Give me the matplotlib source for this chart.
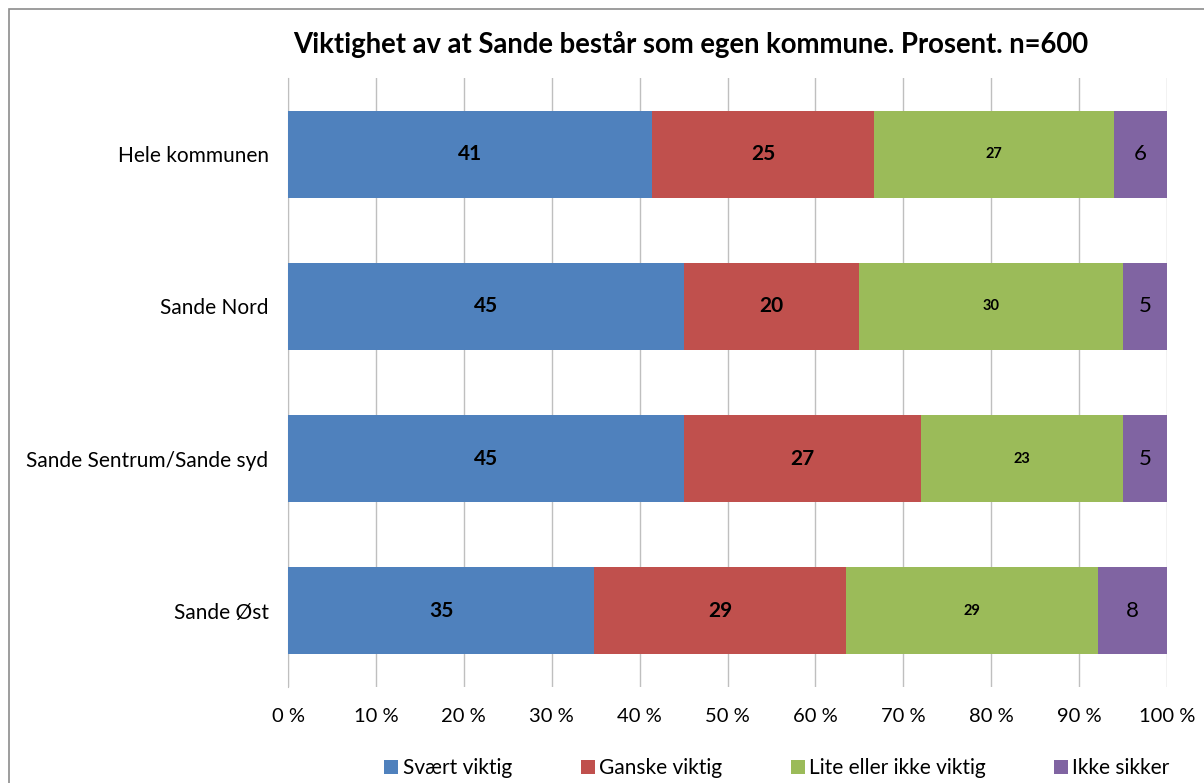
import matplotlib
matplotlib.use("Agg")
import matplotlib.pyplot as plt
from matplotlib.patches import Rectangle
import numpy as np

plt.rcParams['font.family'] = ['Lato', 'DejaVu Sans']

categories = ["Hele kommunen", "Sande Nord", "Sande Sentrum/Sande syd", "Sande Øst"]
series_names = ["Svært viktig", "Ganske viktig", "Lite eller ikke viktig", "Ikke sikker"]
svaert = [41.4, 45.0, 45.0, 34.8]
ganske = [25.3, 20.0, 27.0, 28.7]
lite = [27.3, 30.0, 23.0, 28.7]
ikke = [6.0, 5.0, 5.0, 7.8]
colors = ["#4F81BD", "#C0504D", "#9BBB59", "#8064A2"]
xticks = [0, 10, 20, 30, 40, 50, 60, 70, 80, 90, 100]
xticklabels = [f"{t} %" for t in xticks]
title = "Viktighet av at Sande består som egen kommune. Prosent. n=600"

W, H = 1204, 783
fig = plt.figure(figsize=(W / 100, H / 100), dpi=100)
ax = fig.add_axes([288 / W, 1 - 687 / H, (1167 - 288) / W, (687 - 78) / H])

# figure border
fig.patches.append(Rectangle((9 / W, -0.05), 1.1, 1 - 9 / H + 0.05, transform=fig.transFigure,
                             fill=False, edgecolor="#8C8C8C", linewidth=1.2))

y = np.arange(len(categories))
data = [svaert, ganske, lite, ikke]
left = np.zeros(len(categories))
label_styles = [dict(fontsize=15, fontweight="bold"),
                dict(fontsize=15, fontweight="bold"),
                dict(fontsize=10.5, fontweight="bold"),
                dict(fontsize=16, fontweight="normal")]
for vals, name, col, st in zip(data, series_names, colors, label_styles):
    vals = np.array(vals)
    ax.barh(y, vals, left=left, height=0.57, color=col, label=name, zorder=3)
    for yi, l, v in zip(y, left, vals):
        ax.text(l + v / 2, yi, f"{v:.0f}", ha="center", va="center", color="black", zorder=4, **st)
    left = left + vals

ax.set_xlim(0, 100)
ax.set_ylim(len(categories) - 0.5, -0.5)
ax.set_yticks(y)
ax.set_yticklabels(categories, fontsize=15)
ax.set_xticks(xticks)
ax.set_xticklabels(xticklabels, fontsize=14.5)
ax.tick_params(axis="both", length=0)
ax.tick_params(axis="x", pad=15)
ax.tick_params(axis="y", pad=14)
ax.grid(axis="x", color="#BFBFBF", linewidth=1, zorder=0)
for s in ["top", "right", "bottom"]:
    ax.spines[s].set_visible(False)
ax.spines["left"].set_color("#BFBFBF")

fig.text(691 / W, 1 - 45 / H, title, ha="center", va="center", fontsize=19.8, fontweight="bold")

handles, labels = ax.get_legend_handles_labels()
fig.legend(handles, labels, loc="center", bbox_to_anchor=(777 / W, 1 - 768 / H), ncol=4,
           frameon=False, fontsize=15, handlelength=0.67, handleheight=0.67, handletextpad=0.2,
           columnspacing=3.3)

fig.savefig("out.png", dpi=100)
